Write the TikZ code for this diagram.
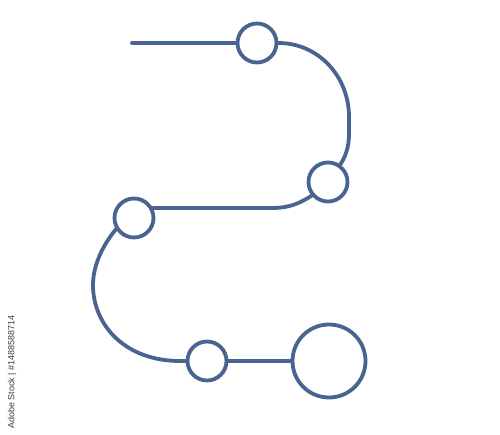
\documentclass[tikz,border=0pt]{standalone}
\usepackage{fontspec}
\setsansfont{Liberation Sans}
\usetikzlibrary{backgrounds}
\definecolor{pathblue}{RGB}{74,99,145}
\definecolor{wmgray}{RGB}{60,60,60}
\tikzset{
  stop/.style={circle, draw=pathblue, fill=white, line width=3.8pt, inner sep=0pt, minimum size=39pt},
  bigstop/.style={stop, minimum size=73pt},
  link/.style={draw=pathblue, line width=3.8pt, line cap=round}
}
\begin{document}
\begin{tikzpicture}[x=1pt,y=-1pt]
\useasboundingbox (0,0) rectangle (500,435);
\coordinate (start) at (132,43);
\node[stop] (c1) at (257,43) {};
\node[stop] (c2) at (328,182) {};
\node[stop] (c3) at (134,218) {};
\node[stop] (c4) at (207,361) {};
\node[bigstop] (c5) at (329,361) {};
\node[rotate=90, text=wmgray, font=\sffamily\fontsize{9}{10}\selectfont, inner sep=0pt] (wm) at (12,372) {Adobe Stock | \#1488588714};
\begin{scope}[on background layer]
\draw[link] (start) -- (c1);
\draw[link] (c1.east) .. controls (318,43) and (349,76) .. (349,117) -- (349,134) .. controls (349,146) and (346,156) .. (c2.55);
\draw[link] (c2.220) .. controls (300,203) and (290,208) .. (272,208) -- (c3.28);
\draw[link] (c3.212) .. controls (103,245) and (93,265) .. (93,285) .. controls (93,325) and (125,361) .. (180,361) -- (c4);
\draw[link] (c4) -- (c5);
\end{scope}
\end{tikzpicture}
\end{document}
